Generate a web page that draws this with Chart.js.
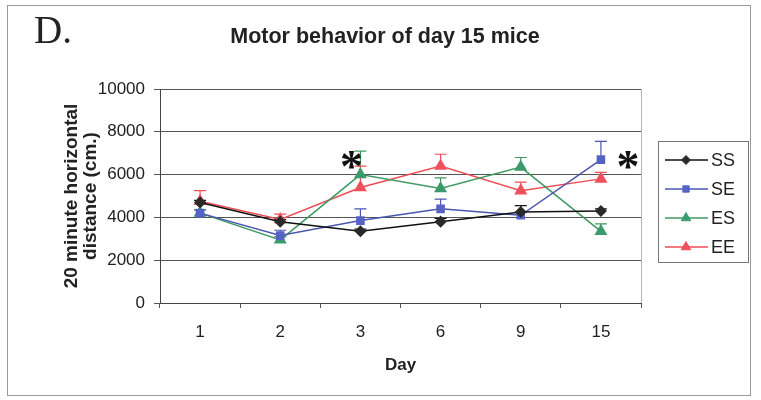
<!DOCTYPE html>
<html>
<head>
<meta charset="utf-8">
<script src="https://cdn.jsdelivr.net/npm/chart.js@4.4.1/dist/chart.umd.min.js"></script>
<style>
  html, body { margin: 0; padding: 0; background: #fff; }
  #wrap { position: relative; width: 761px; height: 400px; }
  #panel {
    position: absolute; left: 34px; top: 7px;
    font: 39px 'Liberation Serif', serif; color: #222;
  }
</style>
</head>
<body>
<div id="wrap">
  <canvas id="chart" width="761" height="400"></canvas>
  <div id="panel">D.</div>
</div>
<script>
// ── Data ──────────────────────────────────────────────────────────────────────
const days     = ['1', '2', '3', '6', '9', '15'];
const yTicks   = [0, 2000, 4000, 6000, 8000, 10000];

const ssValues = [4700, 3800, 3350, 3800, 4250, 4300];
const seValues = [4200, 3150, 3850, 4400, 4100, 6700];
const esValues = [4200, 2950, 6000, 5350, 6350, 3350];
const eeValues = [4750, 3900, 5400, 6400, 5250, 5800];

// plus-only error bars (SEM)
const ssErrors = [100, 100, 100, 150, 300, 100];
const seErrors = [150, 250, 550, 450, 150, 850];
const esErrors = [150, 150, 1100, 500, 450, 350];
const eeErrors = [500, 250, 1000, 550, 400, 300];

// days flagged as significant
const sigDays  = ['3', '15'];

const FONT = "'Liberation Sans', Arial, sans-serif";

// ── Plugins ───────────────────────────────────────────────────────────────────
const errorBars = {
    id: 'errorBars',
    beforeDatasetsDraw(chart) {
        const { ctx, scales: { x, y } } = chart;
        ctx.save();
        chart.data.datasets.forEach((ds) => {
            ctx.strokeStyle = ds.borderColor;
            ctx.lineWidth = 1.2;
            ds.data.forEach((v, i) => {
                const px  = x.getPixelForValue(i);
                const py0 = y.getPixelForValue(v);
                const py1 = y.getPixelForValue(v + ds.errors[i]);
                ctx.beginPath();
                ctx.moveTo(px, py0);
                ctx.lineTo(px, py1);
                ctx.moveTo(px - 6, py1);
                ctx.lineTo(px + 6, py1);
                ctx.stroke();
            });
        });
        ctx.restore();
    },
};

const decorations = {
    id: 'decorations',
    afterDraw(chart) {
        const { ctx, chartArea, scales: { x, y } } = chart;
        ctx.save();

        // outer frame
        ctx.strokeStyle = '#9a9a9a';
        ctx.lineWidth = 1;
        ctx.strokeRect(7.5, 5.5, 743, 390);

        // plot-area right border
        ctx.strokeStyle = '#b5b5b5';
        ctx.beginPath();
        ctx.moveTo(chartArea.right + 0.5, chartArea.top);
        ctx.lineTo(chartArea.right + 0.5, chartArea.bottom);
        ctx.stroke();

        // title
        ctx.fillStyle = '#222';
        ctx.font = `bold 21.5px ${FONT}`;
        ctx.textAlign = 'center';
        ctx.textBaseline = 'middle';
        ctx.fillText('Motor behavior of day 15 mice', 385, 37);

        // significance asterisks
        ctx.font = `bold 46px 'Liberation Serif', serif`;
        ctx.fillStyle = '#111';
        sigDays.forEach((d) => {
            const i  = days.indexOf(d);
            const px = x.getPixelForValue(i);
            const dx = i === days.length - 1 ? 27 : -9;
            ctx.fillText('*', px + dx, y.getPixelForValue(6500) + 6);
        });

        // legend
        const lx = 658, ly = 141, lw = 90, lh = 121;
        ctx.strokeStyle = '#777';
        ctx.lineWidth = 1;
        ctx.strokeRect(lx + 0.5, ly + 0.5, lw, lh);
        ctx.font = `18px ${FONT}`;
        ctx.textAlign = 'left';
        chart.data.datasets.forEach((ds, k) => {
            const cy = ly + 19 + k * 29;
            ctx.strokeStyle = ds.borderColor;
            ctx.lineWidth = 1.5;
            ctx.beginPath();
            ctx.moveTo(lx + 7, cy);
            ctx.lineTo(lx + 50, cy);
            ctx.stroke();
            ctx.fillStyle = ds.pointBackgroundColor;
            ctx.strokeStyle = ds.pointBorderColor;
            ctx.lineWidth = 1;
            Chart.helpers.drawPoint(ctx, {
                pointStyle: ds.pointStyle,
                radius: ds.pointRadius - 0.5,
                rotation: 0,
                borderWidth: 1,
            }, lx + 28, cy);
            ctx.fillStyle = '#222';
            ctx.fillText(ds.label, lx + 53, cy + 1);
        });
        ctx.restore();
    },
};

function series(label, data, errors, color, marker, style, radius) {
    return {
        label,
        data,
        errors,
        borderColor: color,
        backgroundColor: marker,
        pointBackgroundColor: marker,
        pointBorderColor: marker,
        pointStyle: style,
        pointRadius: radius,
        pointHoverRadius: radius,
        borderWidth: 1.5,
        tension: 0,
    };
}

new Chart(document.getElementById('chart'), {
    type: 'line',
    data: {
        labels: days,
        datasets: [
            series('SS', ssValues, ssErrors, '#111111', '#2a2a2a', 'rectRot', 5),
            series('SE', seValues, seErrors, '#4a56b0', '#5763c4', 'rect', 5),
            series('ES', esValues, esErrors, '#3f9a62', '#3d9a6c', 'triangle', 6),
            series('EE', eeValues, eeErrors, '#ee4d55', '#f0505c', 'triangle', 6),
        ],
    },
    options: {
        responsive: false,
        animation: false,
        layout: { padding: { left: 58, right: 120, top: 89, bottom: 0 } },
        plugins: {
            legend: { display: false },
            tooltip: { enabled: false },
        },
        scales: {
            x: {
                offset: true,
                afterFit: (s) => { s.height = 97; },
                grid: {
                    offset: true,
                    drawOnChartArea: false,
                    tickLength: 5,
                    color: '#555',
                },
                border: { color: '#444', width: 1 },
                ticks: {
                    color: '#222',
                    font: { family: FONT, size: 17 },
                    padding: 14,
                },
                title: {
                    display: true,
                    text: 'Day',
                    color: '#222',
                    font: { family: FONT, size: 17, weight: 'bold' },
                    padding: { top: 0, bottom: 24 },
                },
            },
            y: {
                min: 0,
                max: 10000,
                afterFit: (s) => { s.width = 102; },
                afterBuildTicks: (s) => { s.ticks = yTicks.map((v) => ({ value: v })); },
                grid: {
                    color: '#555',
                    lineWidth: 1,
                    tickLength: 6,
                },
                border: { color: '#444', width: 1 },
                ticks: {
                    color: '#222',
                    font: { family: FONT, size: 17 },
                    padding: 9,
                    callback: (v) => String(v),
                },
                title: {
                    display: true,
                    text: ['20 minute horizontal', 'distance (cm.)'],
                    color: '#222',
                    font: { family: FONT, size: 19, weight: 'bold', lineHeight: 1.0 },
                    padding: { top: 4, bottom: 0 },
                },
            },
        },
    },
    plugins: [errorBars, decorations],
});
</script>
</body>
</html>
